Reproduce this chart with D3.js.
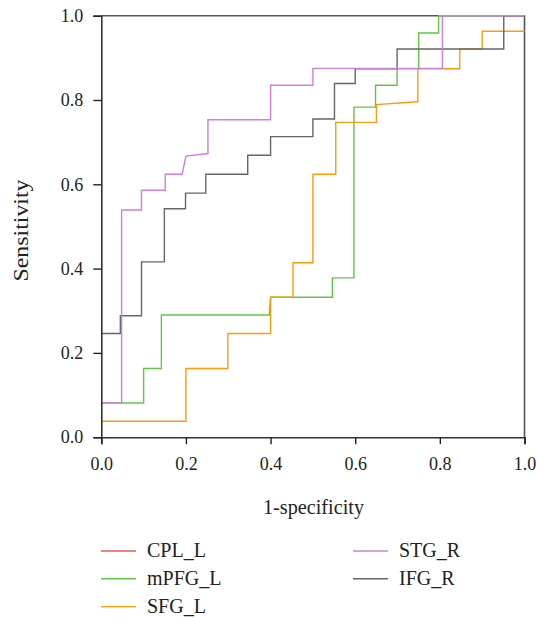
<!DOCTYPE html>
<html>
<head>
<meta charset="utf-8">
<script src="https://cdn.jsdelivr.net/npm/d3@7"></script>
<style>
  body { margin: 0; background: #fff; }
  text { font-family: "Liberation Serif", "DejaVu Serif", serif; fill: #222; }
</style>
</head>
<body>
<div id="chart"></div>
<script>
// data: [1-specificity, sensitivity] step points
var seriesNames = ["CPL_L", "mPFG_L", "SFG_L", "IFG_R", "STG_R"];
var legendOrder = ["CPL_L", "mPFG_L", "SFG_L", "STG_R", "IFG_R"];
var seriesColors = {
    CPL_L: "#ee5a5a",
    mPFG_L: "#62c644",
    SFG_L: "#ff9a0a",
    STG_R: "#d17fd6",
    IFG_R: "#666666"
};

// CPL_L is in the legend but no line of it shows in the plot
var cplL = [];

var mpfgL = [
    [0, 0.081], [0.1, 0.081], [0.1, 0.163], [0.142, 0.163], [0.142, 0.29],
    [0.397, 0.29], [0.4, 0.332], [0.546, 0.332], [0.546, 0.378], [0.597, 0.378],
    [0.597, 0.783], [0.648, 0.783], [0.648, 0.835], [0.699, 0.835], [0.699, 0.874],
    [0.75, 0.874], [0.75, 0.959], [0.797, 0.959], [0.797, 1], [1, 1]
];

var sfgL = [
    [0, 0.038], [0.2, 0.038], [0.2, 0.163], [0.299, 0.163], [0.299, 0.246],
    [0.4, 0.246], [0.4, 0.332], [0.453, 0.332], [0.453, 0.414], [0.5, 0.414],
    [0.5, 0.624], [0.554, 0.624], [0.554, 0.747], [0.65, 0.747], [0.65, 0.789],
    [0.745, 0.796], [0.748, 0.796], [0.748, 0.874], [0.847, 0.874], [0.847, 0.921],
    [0.9, 0.921], [0.9, 0.963], [1, 0.963]
];

var stgR = [
    [0, 0.081], [0.048, 0.081], [0.048, 0.539], [0.095, 0.539], [0.095, 0.586],
    [0.151, 0.586], [0.151, 0.624], [0.191, 0.624], [0.2, 0.667], [0.252, 0.673],
    [0.252, 0.753], [0.4, 0.753], [0.4, 0.835], [0.5, 0.835], [0.5, 0.875],
    [0.806, 0.875], [0.806, 1], [1, 1]
];

var ifgR = [
    [0, 0.246], [0.045, 0.246], [0.045, 0.288], [0.095, 0.288], [0.095, 0.416],
    [0.149, 0.416], [0.149, 0.542], [0.199, 0.542], [0.199, 0.579], [0.247, 0.579],
    [0.247, 0.624], [0.346, 0.624], [0.346, 0.669], [0.4, 0.669], [0.4, 0.713],
    [0.5, 0.713], [0.5, 0.755], [0.551, 0.755], [0.551, 0.839], [0.6, 0.839],
    [0.6, 0.874], [0.699, 0.874], [0.699, 0.921], [0.951, 0.921], [0.951, 1], [1, 1]
];

var seriesData = {
    CPL_L: cplL,
    mPFG_L: mpfgL,
    SFG_L: sfgL,
    STG_R: stgR,
    IFG_R: ifgR
};

var tickValues = [0, 0.2, 0.4, 0.6, 0.8, 1.0];

// set up svg
var width = 537;
var height = 618;

var svg = d3
    .select("#chart")
    .append("svg")
    .attr("width", width)
    .attr("height", height);

var plotLeft = 101.3;
var plotRight = 524.5;
var plotTop = 15.7;
var plotBottom = 437.2;

var xScale = d3.scaleLinear().domain([0, 1]).range([plotLeft, plotRight]);
var yScale = d3.scaleLinear().domain([0, 1]).range([plotBottom, plotTop]);

// box: top and right sides
svg.append("path")
    .attr("d", "M" + plotLeft + "," + plotTop + "H" + plotRight + "V" + plotBottom)
    .attr("fill", "none")
    .attr("stroke", "#555")
    .attr("stroke-width", 1.6);

// curves
var line = d3.line()
    .x(function(d) { return xScale(d[0]); })
    .y(function(d) { return yScale(d[1]); });

seriesNames.forEach(function(name) {
    if (seriesData[name].length === 0) return;
    svg.append("path")
        .datum(seriesData[name])
        .attr("d", line)
        .attr("fill", "none")
        .attr("stroke", seriesColors[name])
        .attr("stroke-width", 1.4);
});

// axes
var xAxis = d3.axisBottom(xScale)
    .tickValues(tickValues)
    .tickFormat(d3.format(".1f"))
    .tickSize(7)
    .tickPadding(13);

var yAxis = d3.axisLeft(yScale)
    .tickValues(tickValues)
    .tickFormat(d3.format(".1f"))
    .tickSize(8)
    .tickPadding(10);

var gx = svg.append("g")
    .attr("transform", "translate(0," + plotBottom + ")")
    .call(xAxis);

var gy = svg.append("g")
    .attr("transform", "translate(" + plotLeft + ",0)")
    .call(yAxis);

[gx, gy].forEach(function(g) {
    g.select(".domain").attr("stroke", "#333").attr("stroke-width", 1.6);
    g.selectAll(".tick line").attr("stroke", "#222").attr("stroke-width", 1.4);
    g.selectAll(".tick text")
        .attr("font-family", "Liberation Serif, DejaVu Serif, serif")
        .attr("font-size", 18)
        .attr("fill", "#222");
});

// axis titles
svg.append("text")
    .attr("x", 313.5)
    .attr("y", 513.5)
    .attr("text-anchor", "middle")
    .attr("font-size", 20)
    .attr("textLength", 101)
    .attr("lengthAdjust", "spacingAndGlyphs")
    .text("1-specificity");

svg.append("text")
    .attr("transform", "translate(28,230.5)rotate(-90)")
    .attr("text-anchor", "middle")
    .attr("font-size", 20)
    .attr("textLength", 102)
    .attr("lengthAdjust", "spacingAndGlyphs")
    .text("Sensitivity");

// legend
var legend = svg.append("g").attr("class", "legend");

legendOrder.forEach(function(name, i) {
    var col = i < 3 ? 0 : 1;
    var row = i < 3 ? i : i - 3;
    var lx = col === 0 ? 101 : 353;
    var ly = 551 + row * 27.8;
    legend.append("line")
        .attr("x1", lx)
        .attr("x2", lx + 35)
        .attr("y1", ly)
        .attr("y2", ly)
        .attr("stroke", seriesColors[name])
        .attr("stroke-width", 1.4);
    legend.append("text")
        .attr("x", lx + 46)
        .attr("y", ly + 6)
        .attr("font-size", 20)
        .text(name);
});
</script>
</body>
</html>
